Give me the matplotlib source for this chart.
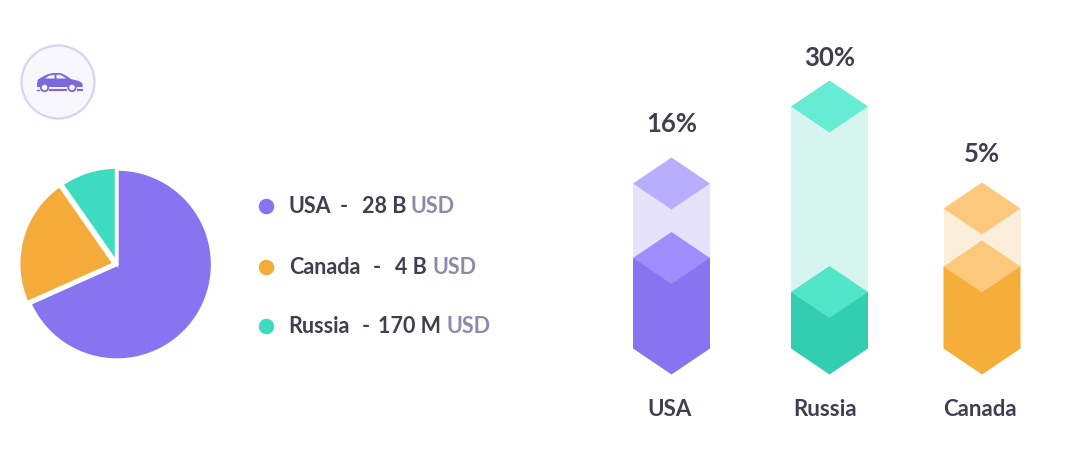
import matplotlib
matplotlib.use('Agg')
import matplotlib.pyplot as plt
from matplotlib.patches import Circle, Polygon

# pie
pie_labels = ['USA', 'Canada', 'Russia']
pie_values = [68.3, 22.0, 9.7]
pie_colors = ['#8874f0', '#f5ab3a', '#3ddcc0']
pie_explode = [0, 0.03, 0.02]

# legend
legend_amounts = ['28 B', '4 B', '170 M']
legend_text_x = [288, 289, 288]
legend_dash_x = [340, 373, 362]
legend_amount_x = [362, 395, 378.5]
legend_usd_x = [410.5, 432.5, 446.5]
legend_y = [206, 267, 326]

# bars, heights are in pixels above the lower edge
bar_labels = ['USA', 'Russia', 'Canada']
bar_pcts = ['16%', '30%', '5%']
bar_track = [165, 242, 140]
bar_fill = [90.5, 56.5, 82]
bar_x = [671.5, 829.5, 982]
bar_pct_y = [124, 57, 153.5]
bar_label_x = [670, 825, 980]
bar_solid = ['#8874f0', '#33cdb2', '#f6ae3a']
bar_mid = ['#9e8dfa', '#52e6c8', '#fcc87c']
bar_top = ['#b9aefc', '#66ecd3', '#fcc87c']
bar_light = ['#e6e2fa', '#d6f5ef', '#fbeedb']

DARK = '#3f3f50'
GREY = '#8c8aab'
FONT = 'Lato'
BASE = 349
HW = 38.5
HH = 26


def diamond(ax, cx, y, color, z):
    ax.add_patch(Polygon([(cx - HW, y), (cx, y - HH), (cx + HW, y), (cx, y + HH)],
                         facecolor=color, edgecolor='none', zorder=z))


def car(ax, color):
    body = [(37, 84), (38, 80), (42, 77.5), (47, 75), (53, 73.5), (60, 73.5), (65, 75.5), (71, 79.5),
            (79, 81.5), (82.5, 84), (82.5, 87.5), (37, 87.5)]
    ax.add_patch(Polygon(body, facecolor=color, edgecolor='none', zorder=5))
    for w in ([(45, 79), (49, 76.2), (54.5, 75.3), (54.5, 79)],
              [(56.5, 75.3), (60, 75.3), (66.5, 79), (56.5, 79)]):
        ax.add_patch(Polygon(w, facecolor='#f8f7fe', edgecolor='none', zorder=6))
    for wx in (44.5, 72):
        ax.add_patch(Circle((wx, 88), 3.7, facecolor='#f8f7fe', edgecolor=color, lw=1.3, zorder=7))
    ax.plot([50, 66], [90, 90], color=color, lw=1.5, zorder=5)
    ax.plot([36.5, 38.5], [90, 90], color=color, lw=1, zorder=5)
    ax.plot([78, 82], [90, 90], color=color, lw=1.5, zorder=5)


fig = plt.figure(figsize=(10.86, 4.64), dpi=100, facecolor='white')
ax = fig.add_axes([0, 0, 1, 1])
ax.set_xlim(0, 1086)
ax.set_ylim(463.5, -0.5)
ax.axis('off')

# icon
ax.add_patch(Circle((58, 82.5), 36.5, facecolor='#f8f7fe', edgecolor='#d8d2f5', lw=1.6))
car(ax, '#7a68dc')

# pie, axes box is placed in pixels
r = 95.5
cx, cy = 117, 265.5
pie_ax = fig.add_axes([(cx - r * 1.1) / 1086, 1 - (cy + r * 1.1) / 464, r * 2.2 / 1086, r * 2.2 / 464])
pie_ax.pie(pie_values, colors=pie_colors, explode=pie_explode, startangle=90, counterclock=False,
           wedgeprops={'edgecolor': 'white', 'linewidth': 2.4})
pie_ax.set_xlim(-1.1, 1.1)
pie_ax.set_ylim(-1.1, 1.1)

# legend
for i, name in enumerate(pie_labels):
    y = legend_y[i]
    ax.scatter([266], [y], s=125, color=pie_colors[i], linewidths=0)
    ax.text(legend_text_x[i], y, name, color=DARK, fontsize=15.5, family=FONT, fontweight='bold',
            va='center', ha='left')
    ax.text(legend_dash_x[i], y, '-', color=DARK, fontsize=15.5, family=FONT, fontweight='bold',
            va='center', ha='left')
    ax.text(legend_amount_x[i], y, legend_amounts[i], color=DARK, fontsize=15.5, family=FONT,
            fontweight='bold', va='center', ha='left')
    ax.text(legend_usd_x[i], y, 'USD', color=GREY, fontsize=15.5, family=FONT, fontweight='bold',
            va='center', ha='left')

# bars
for i, name in enumerate(bar_labels):
    x = bar_x[i]
    fill_y = BASE - bar_fill[i]
    track_y = BASE - bar_track[i]
    ax.fill_between([x - HW, x + HW], track_y, fill_y, color=bar_light[i], linewidth=0, zorder=1)
    ax.add_patch(Polygon([(x - HW, fill_y), (x + HW, fill_y), (x + HW, BASE), (x, BASE + HH), (x - HW, BASE)],
                         facecolor=bar_solid[i], edgecolor='none', zorder=2))
    diamond(ax, x, fill_y, bar_mid[i], 3)
    diamond(ax, x, track_y, bar_top[i], 3)
    ax.text(x, bar_pct_y[i], bar_pcts[i], color=DARK, fontsize=18.5, family=FONT,
            fontweight='bold', ha='center', va='center')
    ax.text(bar_label_x[i], 409.5, name, color=DARK, fontsize=16, family=FONT, fontweight='bold',
            ha='center', va='center')

fig.savefig('out.png', dpi=100, facecolor='white')
